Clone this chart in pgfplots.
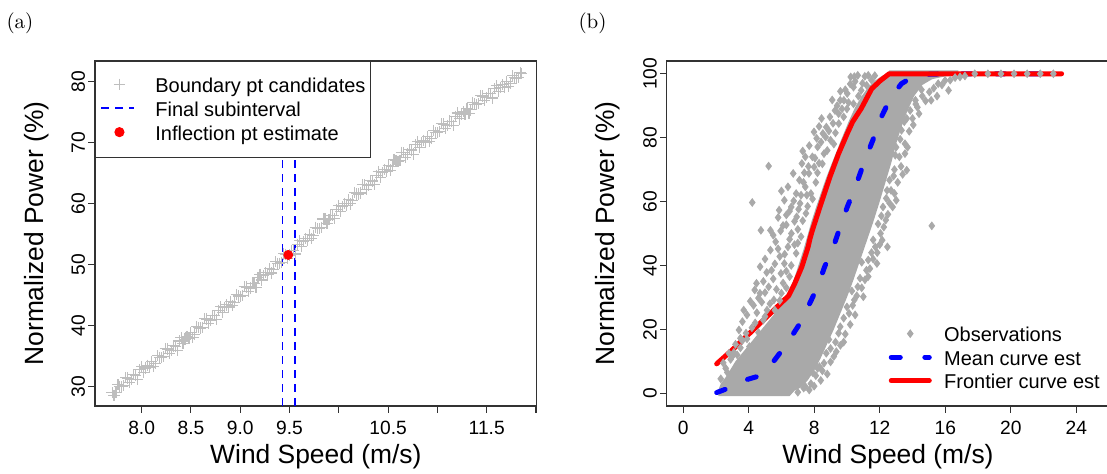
\documentclass[border=0pt]{standalone}
\usepackage{fontspec}
\usepackage{pgfplots}
\pgfplotsset{compat=1.18}
\newfontfamily\arial{Liberation Sans}
\definecolor{candgray}{RGB}{190,190,190}
\definecolor{obsgray}{RGB}{169,169,169}
\definecolor{boxgray}{RGB}{50,50,50}

\pgfplotsset{
  rplot/.style={
    scale only axis, anchor=south west,
    axis line style={boxgray, line width=0.55pt},
    tick style={boxgray, line width=0.55pt},
    tick align=outside, major tick length=3.3pt,
    xtick pos=left, ytick pos=left,
    tick label style={font=\arial\fontsize{9.6}{11}\selectfont},
    /pgf/number format/assume math mode=true,
    xticklabel style={anchor=base, yshift=-11.2pt},
    yticklabel style={xshift=-1.7pt, rotate=90, anchor=base},
    label style={font=\arial\fontsize{13.2}{15}\selectfont},
    xlabel style={at={(axis description cs:0.5,0)}, anchor=base, yshift=-28.7pt},
    legend cell align=left,
  },
}

\begin{document}
\begin{tikzpicture}
\useasboundingbox (0,0) rectangle (553.5pt,237pt);

% (a) boundary point candidates
\begin{axis}[rplot,
  at={(47.5pt,34pt)}, width=220.85pt, height=172.5pt,
  xmin=7.527, xmax=12.007, ymin=26.84, ymax=83.4,
  xtick={8,8.5,9,9.5,10,10.5,11,11.5,12},
  xticklabels={8.0,8.5,9.0,9.5,,10.5,,11.5,},
  ytick={30,40,50,60,70,80},
  xlabel={Wind Speed (m/s)},
  ylabel={Normalized Power (\%)},
  ylabel style={at={(axis description cs:-0.1177,0.5)}, anchor=base},
  legend image code/.code={\draw[mark repeat=2,mark phase=2] plot coordinates {(0pt,0.6pt) (9pt,0.6pt) (16.5pt,0.6pt)};},
  legend style={at={(0,1)}, anchor=north west, draw=boxgray, line width=0.55pt,
    fill=white, inner xsep=2.5pt, inner ysep=5.9pt, column sep=10pt, row sep=0pt,
    font=\arial\fontsize{10}{12}\selectfont,
    nodes={inner sep=0pt, text height=9.6pt, text depth=2.4pt}},
]
\addplot[only marks, mark=+, mark size=2.8pt, candgray, mark options={line width=0.55pt}] coordinates {
(7.70,29.00) (7.74,29.08) (7.78,30.06) (7.82,30.14) (7.86,31.42) (7.90,31.20)
(7.94,31.88) (7.98,32.76) (8.02,32.34) (8.06,33.51) (8.10,34.08) (8.14,33.86)
(8.18,34.83) (8.22,34.90) (8.26,36.18) (8.30,35.95) (8.34,36.63) (8.38,37.50)
(8.42,37.07) (8.46,38.25) (8.50,38.82) (8.54,38.63) (8.58,39.65) (8.62,39.77)
(8.66,41.10) (8.70,40.92) (8.74,41.64) (8.78,42.56) (8.82,42.19) (8.86,43.41)
(8.90,44.03) (8.94,43.85) (8.98,44.88) (9.02,45.00) (9.06,46.34) (9.10,46.18)
(9.14,46.92) (9.18,47.86) (9.22,47.50) (9.26,48.74) (9.30,49.38) (9.34,49.22)
(9.38,50.26) (9.42,50.40) (9.46,51.74) (9.50,51.59) (9.54,52.36) (9.58,53.34)
(9.62,53.02) (9.66,54.29) (9.70,54.97) (9.74,54.85) (9.78,55.92) (9.82,56.10)
(9.86,57.48) (9.90,57.35) (9.94,58.13) (9.98,59.11) (10.02,58.78) (10.06,60.04)
(10.10,60.69) (10.14,60.55) (10.18,61.61) (10.22,61.76) (10.26,63.12) (10.30,62.98)
(10.34,63.73) (10.38,64.69) (10.42,64.35) (10.46,65.60) (10.50,66.26) (10.54,66.05)
(10.58,67.02) (10.62,67.09) (10.66,68.36) (10.70,68.14) (10.74,68.81) (10.78,69.68)
(10.82,69.25) (10.86,70.42) (10.90,70.99) (10.94,70.76) (10.98,71.73) (11.02,71.80)
(11.06,73.06) (11.10,72.82) (11.14,73.48) (11.18,74.34) (11.22,73.90) (11.26,75.06)
(11.30,75.62) (11.34,75.38) (11.38,76.34) (11.42,76.40) (11.46,77.66) (11.50,77.41)
(11.54,78.03) (11.58,78.85) (11.62,78.37) (11.66,79.49) (11.70,80.01) (11.74,79.74)
(11.78,80.66) (11.82,80.68) (11.85,81.30)
(7.72,28.54) (7.76,30.32) (7.80,30.00) (7.84,31.48) (7.88,30.66) (7.92,31.94)
(7.96,31.22) (8.00,33.30) (8.04,33.07) (8.08,33.15) (8.12,33.32) (8.16,35.09)
(8.20,34.77) (8.24,36.24) (8.28,35.42) (8.32,36.69) (8.36,35.96) (8.40,38.04)
(8.44,37.81) (8.48,37.88) (8.52,38.07) (8.56,39.89) (8.60,39.61) (8.64,41.13)
(8.68,40.36) (8.72,41.68) (8.76,41.00) (8.80,43.13) (8.84,42.95) (8.88,43.07)
(8.92,43.29) (8.96,45.12) (9.00,44.84) (9.04,46.37) (9.08,45.61) (9.12,46.95)
(9.16,46.29) (9.20,48.43) (9.24,48.27) (9.28,48.41) (9.32,48.65) (9.36,50.49)
(9.40,50.23) (9.44,51.77) (9.48,51.01) (9.52,52.38) (9.56,51.75) (9.60,53.93)
(9.64,53.81) (9.68,53.98) (9.72,54.26) (9.76,56.13) (9.80,55.91) (9.84,57.49)
(9.88,56.77) (9.92,58.14) (9.96,57.52) (10.00,59.70) (10.04,59.56) (10.08,59.71)
(10.12,59.97) (10.16,61.83) (10.20,61.58) (10.24,63.14) (10.28,62.40) (10.32,63.75)
(10.36,63.11) (10.40,65.27) (10.44,65.12) (10.48,65.28) (10.52,65.52) (10.56,67.29)
(10.60,66.96) (10.64,68.43) (10.68,67.60) (10.72,68.87) (10.76,68.14) (10.80,70.21)
(10.84,69.98) (10.88,70.06) (10.92,70.23) (10.96,72.00) (11.00,71.67) (11.04,73.13)
(11.08,72.29) (11.12,73.55) (11.16,72.81) (11.20,74.87) (11.24,74.63) (11.28,74.69)
(11.32,74.85) (11.36,76.61) (11.40,76.27) (11.44,77.73) (11.48,76.89) (11.52,78.12)
(11.56,77.34) (11.60,79.36) (11.64,79.08) (11.68,79.10) (11.72,79.22) (11.76,80.95)
(11.80,80.57) (11.84,81.50)
};
\addlegendentry{Boundary pt candidates}
\addplot[blue, line width=0.9pt, dash pattern=on 4pt off 3pt] coordinates {(9.4286,26.84) (9.4286,83.4)};
\addlegendentry{Final subinterval}
\addplot[blue, line width=0.9pt, dash pattern=on 4pt off 3pt, forget plot] coordinates {(9.553,26.84) (9.553,83.4)};
\addplot[only marks, mark=*, mark size=2.25pt, red, mark options={draw=red, fill=red}] coordinates {(9.487,51.6)};
\addlegendentry{Inflection pt estimate}
\end{axis}

% (b) power curve data
\begin{axis}[rplot,
  at={(333.35pt,34pt)}, width=221.2pt, height=172.5pt,
  xmin=-1, xmax=26, ymin=-4, ymax=104,
  xtick={0,4,8,12,16,20,24},
  ytick={0,20,40,60,80,100},
  xlabel={Wind Speed (m/s)},
  ylabel={Normalized Power (\%)},
  ylabel style={at={(axis description cs:-0.1175,0.5)}, anchor=base},
  legend image code/.code={\draw[mark repeat=2,mark phase=2] plot coordinates {(0pt,0.6pt) (9.5pt,0.6pt) (19pt,0.6pt)};},
  legend style={at={(axis description cs:0.501,0.2414)}, anchor=north west, draw=none,
    fill=none, inner sep=0pt, column sep=6.2pt, row sep=0pt,
    font=\arial\fontsize{10}{12}\selectfont,
    nodes={inner sep=0pt, text height=9.4pt, text depth=2.35pt}},
]
\addplot[fill=obsgray, draw=none, forget plot] coordinates {
(2.15,-0.9) (2.15,1) (2.3,3) (2.6,5) (2.9,7.5) (3.2,10) (3.6,12.5) (4.0,15)
(4.4,17.5) (4.8,20) (5.2,22.5) (5.6,25) (6.0,27.5) (6.3,30) (6.6,33.5) (6.85,37)
(7.1,41) (7.35,45) (7.6,49.5) (7.85,54) (8.1,58) (8.4,62.5) (8.7,67) (9.0,71)
(9.35,75.5) (9.7,80) (10.1,85) (10.5,89.5) (10.9,93) (11.3,95.8) (11.7,97.8)
(12.1,99.2) (12.5,100.3) (12.6,101.1) (16.8,101.1) (16.8,99.8) (16.0,99.2)
(15.2,98.3) (14.6,96.5) (14.1,93) (13.7,88.5) (13.3,83) (13.0,78) (12.7,72)
(12.35,66) (12.0,60) (11.6,53.5) (11.2,47.5) (10.8,41.5) (10.4,35.5) (10.0,30)
(9.6,25) (9.2,20) (8.8,15.5) (8.4,11) (8.0,7) (7.6,4) (7.2,1.8) (6.8,0.8) (6.5,-0.9)
} -- cycle;
\addplot[only marks, mark=diamond*, mark size=1.9pt, mark options={draw=obsgray, fill=obsgray}] coordinates {
(2.3,4.5) (2.6,7.8) (2.9,10.6) (3.1,12.8) (3.3,9.0) (3.5,14.2) (3.62,16.5) (3.41,19.8)
(3.62,22.4) (3.84,18.8) (4.05,14.6) (4.2,20.5) (4.37,32.3) (4.48,34.4) (4.69,31.3)
(4.22,59.7) (4.75,51.0) (4.5,25.2) (4.9,22.9) (4.8,28.5) (5.12,26.0) (5.22,33.3)
(5.22,71.1) (5.33,51.0) (5.33,44.8) (5.54,29.2) (5.4,38.5) (5.65,47.4) (5.86,57.3)
(5.97,37.5) (5.9,42.8) (6.18,40.6) (6.18,60.4) (6.1,52.5) (6.40,45.8) (6.40,64.6)
(6.3,55.8) (6.61,50.0) (6.72,68.8) (6.6,58.3) (6.93,55.2) (6.9,62.5) (7.14,59.4)
(7.25,71.9) (7.1,66.7) (7.46,64.6) (7.46,74.0) (7.4,69.0) (7.68,68.8) (7.7,77.5)
(7.89,74.0) (7.99,81.8) (8.0,70.8) (8.21,77.1) (8.42,78.6) (8.3,83.5) (8.53,81.3)
(8.74,83.3) (8.6,75.0) (8.96,86.5) (9.0,79.2) (9.27,88.5) (9.49,87.5) (9.59,91.7)
(9.81,91.7) (9.5,84.4) (10.02,93.8) (10.0,89.0) (10.23,99.0) (10.4,95.8) (10.66,99.5)
(10.87,94.8) (11.09,99.2) (11.30,99.5) (11.5,98.0) (6.9,43.8) (6.5,36.5) (6.0,31.3)
(5.6,26.0) (5.0,24.0) (7.2,49.0) (7.5,56.3) (7.8,62.5) (8.1,66.0) (8.8,76.0)
(9.3,81.5) (9.8,86.5) (10.4,90.6)
(3.9,24.5) (4.3,27.5) (4.6,29.8) (5.0,31.5) (5.3,28.0) (5.7,32.5) (6.1,34.5) (5.5,35.8)
(4.9,35.0) (4.1,28.8) (3.7,26.0) (5.9,29.0) (6.3,33.0)
(5.1,37.8) (5.6,40.5) (5.8,45.2) (6.2,43.5) (6.6,40.0) (6.3,38.2) (5.0,42.0) (4.7,39.6)
(6.8,46.5) (6.5,48.2) (7.0,47.0) (5.5,49.5) (5.95,50.8)
(6.3,52.7) (6.8,53.8) (7.0,51.3) (7.3,54.0) (7.6,58.5) (6.75,60.2) (7.2,62.0) (7.9,60.8)
(6.5,57.0) (7.05,57.6) (5.8,55.0) (6.0,63.3) (7.35,66.0)
(7.65,71.0) (8.05,73.6) (8.3,72.0) (8.2,69.0) (7.55,62.0) (8.5,71.8) (7.3,75.8) (8.15,79.8)
(8.7,80.2) (8.9,82.1) (9.15,84.5) (8.45,86.0) (9.2,78.0)
(9.4,90.0) (9.7,89.0) (9.9,95.0) (10.2,96.8) (10.5,97.6) (10.7,93.0) (10.95,97.0) (11.2,96.4)
(9.1,91.8) (10.1,91.0) (9.6,94.5) (10.45,99.1) (11.7,99.4)
(2.45,9.5) (2.8,12.5) (3.2,15.3) (3.5,17.2) (3.0,11.5) (2.7,6.5) (3.9,17.0) (4.4,22.0)
(4.6,19.0) (3.3,12.0)
(7.0,0.3) (7.36,1.6) (7.46,2.1) (7.25,4.2) (7.8,3.0) (8.21,7.8) (8.32,8.3) (8.1,5.5)
(8.6,9.4) (8.74,12.5) (9.0,14.0) (9.2,11.5) (9.49,18.8) (9.59,20.8) (9.3,16.0)
(9.8,23.5) (10.13,25.0) (10.0,27.0) (10.45,29.2) (10.3,32.0) (10.66,33.3) (10.8,36.0)
(11.19,38.5) (11.30,41.7) (11.30,36.5) (11.5,44.0) (11.73,45.8) (11.83,40.6)
(12.05,50.0) (12.15,47.9) (11.9,53.0) (12.37,54.2) (12.47,45.8) (12.2,58.3)
(12.79,58.3) (12.69,63.5) (13.01,60.4) (12.6,66.7) (12.9,70.0) (13.65,69.8)
(13.2,74.0) (13.54,75.0) (13.54,78.1) (13.33,82.3) (13.5,85.0) (13.86,88.5)
(14.18,91.7) (14.0,86.0) (14.6,93.0) (15.14,91.7) (15.03,94.3) (15.57,96.9)
(16.20,94.8) (15.99,97.9) (16.6,98.8) (17.2,99.3) (15.18,52.4) (6.0,0.5) (6.6,1.2)
(7.9,6.5) (8.9,16.8) (10.9,41.0) (12.4,61.0) (13.0,77.0) (14.3,89.5)
(7.7,1.0) (8.0,2.2) (8.4,4.0) (8.8,6.0) (8.5,7.0) (9.0,9.8) (9.35,13.0) (9.6,15.0)
(9.9,18.5) (10.2,21.5) (10.5,24.5) (9.8,16.0) (10.35,27.5) (10.6,30.5) (10.9,33.0)
(11.0,30.2) (11.1,35.5) (11.4,39.0) (11.6,42.0) (11.85,44.0) (12.0,46.5) (11.6,48.0)
(12.25,52.0) (12.5,56.0) (12.1,55.5) (12.6,59.5) (12.9,62.5) (12.45,63.5) (13.1,66.0)
(12.85,68.0) (13.3,71.0) (13.4,68.5) (12.95,74.5) (13.7,77.0) (13.25,79.5) (13.8,82.0)
(14.05,84.0) (13.65,86.0) (14.4,87.5) (14.2,90.5) (14.8,91.5) (14.55,95.0) (15.3,95.5)
(15.8,96.5) (16.3,98.0) (16.9,99.0) (15.5,93.0)
(17.8,100) (18.6,100) (19.4,100) (20.2,100) (21.0,100) (21.8,100) (22.6,100)
};
\addlegendentry{Observations}
\addplot[blue, line width=2.5pt, line cap=round, dash pattern=on 4.5pt off 12.3pt] coordinates {
(2.05,0.2) (2.77,1.6) (3.84,4.2) (4.65,5.4) (5.44,9.4) (5.97,13.0) (6.61,17.7)
(7.14,21.9) (7.68,27.6) (8.21,33.3) (8.64,39.6) (9.17,45.8) (9.59,52.1) (10.02,58.3)
(10.55,65.1) (11.09,72.9) (11.62,79.7) (12.15,87.0) (12.69,92.7) (13.33,96.9)
(14.07,99.2) (14.71,99.8) (16.0,100) (23.0,100)
};
\addlegendentry{Mean curve est}
\addplot[red, line width=2.5pt, line cap=round, line join=round] coordinates {
(2.05,9.2) (2.99,13.5) (4.48,20.8) (5.33,25.0) (6.44,30.5) (6.82,34.4) (7.25,39.6)
(7.63,45.8) (7.75,48.5) (7.89,51.0) (8.42,59.4) (8.96,67.7) (9.49,75.0) (10.02,81.3)
(10.34,84.9) (10.87,89.1) (11.51,95.3) (12.05,97.9) (12.58,100) (23.1,100)
};
\addlegendentry{Frontier curve est}
\end{axis}

\node[font=\fontsize{10.5}{12}\selectfont] at (10pt,225.5pt) {(a)};
\node[font=\fontsize{10.5}{12}\selectfont] at (296.25pt,225.5pt) {(b)};
\end{tikzpicture}
\end{document}
